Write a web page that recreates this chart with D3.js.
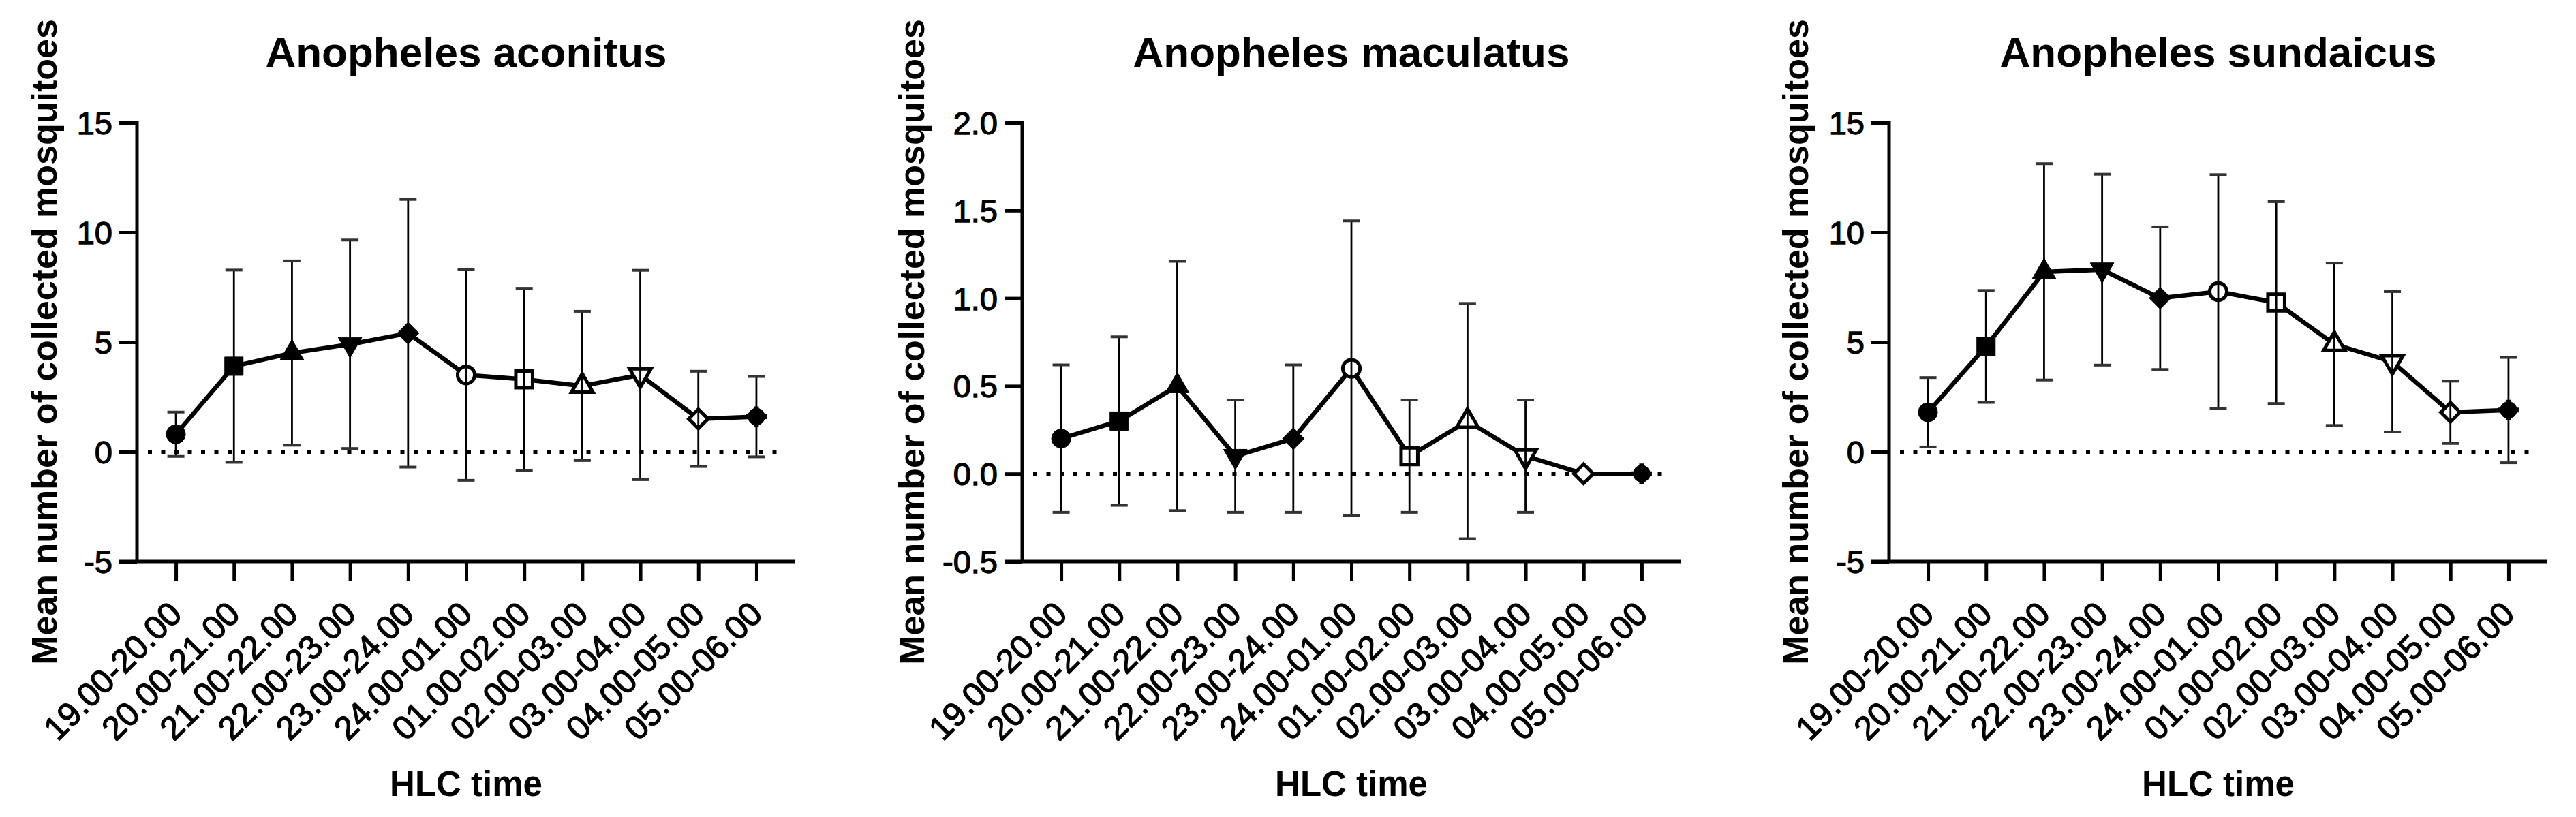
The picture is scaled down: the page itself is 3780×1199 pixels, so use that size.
<!DOCTYPE html>
<html>
<head>
<meta charset="utf-8">
<script src="https://cdn.jsdelivr.net/npm/d3@7"></script>
<style>
  html, body { margin: 0; padding: 0; background: #fff; }
  svg { display: block; }
</style>
</head>
<body>
<script>
// ---------------- DATA ----------------
const categories = ["19.00-20.00","20.00-21.00","21.00-22.00","22.00-23.00","23.00-24.00",
                    "24.00-01.00","01.00-02.00","02.00-03.00","03.00-04.00","04.00-05.00","05.00-06.00"];

const titles = ["Anopheles aconitus", "Anopheles maculatus", "Anopheles sundaicus"];

const aconitusMean  = [0.8, 3.9, 4.5, 4.9, 5.4, 3.5, 3.3, 3.0, 3.5, 1.5, 1.6];
const aconitusSD    = [1.01, 4.38, 4.2, 4.75, 6.1, 4.8, 4.15, 3.4, 4.77, 2.17, 1.83];

const maculatusMean = [0.2, 0.3, 0.5, 0.1, 0.2, 0.6, 0.1, 0.3, 0.1, 0.0, 0.0];
const maculatusSD   = [0.42, 0.48, 0.71, 0.32, 0.42, 0.84, 0.32, 0.67, 0.32, 0.0, 0.0];

const sundaicusMean = [1.8, 4.8, 8.2, 8.3, 7.0, 7.3, 6.8, 4.9, 4.1, 1.8, 1.9];
const sundaicusSD   = [1.58, 2.55, 4.93, 4.35, 3.25, 5.33, 4.6, 3.7, 3.2, 1.42, 2.4];

const yTicksCount   = [-5, 0, 5, 10, 15];
const yLabelsCount  = ["-5", "0", "5", "10", "15"];
const yTicksMac     = [-0.5, 0.0, 0.5, 1.0, 1.5, 2.0];
const yLabelsMac    = ["-0.5", "0.0", "0.5", "1.0", "1.5", "2.0"];

const yTitle = "Mean number of collected mosquitoes";
const xTitle = "HLC time";

const markerTypes  = ["circle","square","triangle","triangleDown","diamond",
                      "circle","square","triangle","triangleDown","diamond","plus"];
const markerFilled = [true, true, true, true, true, false, false, false, false, false, true];

// ---------------- LAYOUT ----------------
const W = 3780, H = 1199;
const FONT = "'Liberation Sans', Arial, Helvetica, sans-serif";
const plotW = 966, plotTop = 180, plotBottom = 824;

const panels = [
  { x0: 201,  mean: aconitusMean,  sd: aconitusSD,  domain: [-5, 15],   ticks: yTicksCount, labels: yLabelsCount, yLabelOff: 118 },
  { x0: 1500, mean: maculatusMean, sd: maculatusSD, domain: [-0.5, 2.0], ticks: yTicksMac,  labels: yLabelsMac,   yLabelOff: 144 },
  { x0: 2772, mean: sundaicusMean, sd: sundaicusSD, domain: [-5, 15],   ticks: yTicksCount, labels: yLabelsCount, yLabelOff: 119 }
];

const svg = d3.select("body").append("svg")
  .attr("width", W).attr("height", H)
  .attr("viewBox", `0 0 ${W} ${H}`);
svg.append("rect").attr("width", W).attr("height", H).attr("fill", "#fff");

function markerPath(type, filled) {
  switch (type) {
    case "circle":       return d3.symbol(d3.symbolCircle, filled ? 620 : 500)();
    case "square":       return d3.symbol(d3.symbolSquare, filled ? 730 : 600)();
    case "triangle":
    case "triangleDown": return d3.symbol(d3.symbolTriangle, filled ? 520 : 430)();
    case "diamond":      return d3.symbol(d3.symbolSquare, filled ? 500 : 400)();
    case "plus":         return d3.symbol(d3.symbolCircle, 480)();
  }
}
function markerRotate(type) {
  if (type === "triangleDown") return 180;
  if (type === "diamond") return 45;
  return 0;
}

panels.forEach((p, i) => {
  const g = svg.append("g").attr("transform", `translate(${p.x0},0)`);

  const x = d3.scalePoint().domain(categories).range([0, plotW]).padding(0.67);
  const y = d3.scaleLinear().domain(p.domain).range([plotBottom, plotTop]);

  // title
  g.append("text")
    .attr("x", plotW / 2).attr("y", 98)
    .attr("text-anchor", "middle")
    .attr("font-family", FONT).attr("font-weight", "bold").attr("font-size", 62)
    .attr("fill", "#000")
    .text(titles[i]);

  // y axis
  const gy = g.append("g").call(
    d3.axisLeft(y).tickValues(p.ticks).tickFormat((d, j) => p.labels[j])
      .tickSize(26).tickPadding(10).tickSizeOuter(0));
  gy.select(".domain").remove();
  gy.selectAll(".tick line").attr("stroke", "#000").attr("stroke-width", 5);
  gy.selectAll(".tick text")
    .attr("font-family", FONT).attr("font-size", 47).attr("fill", "#000")
    .attr("stroke", "#000").attr("stroke-width", 1.3)
    .attr("dy", "0.35em");

  g.append("line")
    .attr("x1", 0).attr("x2", 0)
    .attr("y1", y.range()[1] - 2.5).attr("y2", y.range()[0])
    .attr("stroke", "#000").attr("stroke-width", 5);

  // x axis
  const gx = g.append("g").attr("transform", `translate(0,${y.range()[0]})`)
    .call(d3.axisBottom(x).tickSize(28).tickSizeOuter(0));
  gx.select(".domain").remove();
  gx.selectAll(".tick line").attr("stroke", "#000").attr("stroke-width", 5);
  gx.selectAll(".tick text")
    .attr("font-family", FONT).attr("font-size", 49).attr("fill", "#000")
    .attr("stroke", "#000").attr("stroke-width", 1.3)
    .attr("x", 0).attr("y", 0).attr("dy", null)
    .attr("text-anchor", "end")
    .attr("transform", "translate(11,80) rotate(-45)");

  g.append("line")
    .attr("x1", -26).attr("x2", x.range()[1])
    .attr("y1", y.range()[0]).attr("y2", y.range()[0])
    .attr("stroke", "#000").attr("stroke-width", 5);

  // axis titles
  g.append("text")
    .attr("transform", `translate(${-p.yLabelOff},${(plotTop + plotBottom) / 2}) rotate(-90)`)
    .attr("text-anchor", "middle")
    .attr("font-family", FONT).attr("font-weight", "bold").attr("font-size", 52)
    .attr("fill", "#000")
    .text(yTitle);

  g.append("text")
    .attr("x", plotW / 2).attr("y", 1168)
    .attr("text-anchor", "middle")
    .attr("font-family", FONT).attr("font-weight", "bold").attr("font-size", 51)
    .attr("fill", "#000")
    .text(xTitle);

  // dotted zero line
  g.append("line")
    .attr("x1", 16).attr("x2", plotW - 16)
    .attr("y1", y(0)).attr("y2", y(0))
    .attr("stroke", "#000").attr("stroke-width", 6)
    .attr("stroke-dasharray", "6,13.5");

  // connecting line
  const line = d3.line().x((d, j) => x(categories[j])).y(d => y(d));
  g.append("path")
    .datum(p.mean)
    .attr("d", line)
    .attr("fill", "none").attr("stroke", "#000")
    .attr("stroke-width", 6.5).attr("stroke-linejoin", "round");

  // markers
  const mk = g.append("g").selectAll("g.mk")
    .data(p.mean.map((m, j) => ({ m, j })))
    .join("g")
    .attr("transform", d => `translate(${x(categories[d.j])},${y(d.m)}) rotate(${markerRotate(markerTypes[d.j])})`);
  mk.append("path")
    .attr("d", d => markerPath(markerTypes[d.j], markerFilled[d.j]))
    .attr("fill", d => markerFilled[d.j] ? "#000" : "#fff")
    .attr("stroke", "#000")
    .attr("stroke-width", d => markerFilled[d.j] ? 1 : 5);
  mk.filter(d => markerTypes[d.j] === "plus").append("path")
    .attr("d", "M-15,0H15M0,-15V15")
    .attr("stroke", "#000").attr("stroke-width", 7);

  // error bars (mean ± SD)
  const eb = g.append("g").selectAll("g.eb")
    .data(p.mean.map((m, j) => ({ m, s: p.sd[j], j })).filter(d => d.s > 0))
    .join("g");
  eb.append("line")
    .attr("x1", d => x(categories[d.j])).attr("x2", d => x(categories[d.j]))
    .attr("y1", d => y(d.m - d.s)).attr("y2", d => y(d.m + d.s))
    .attr("stroke", "#000").attr("stroke-width", 2.8);
  [1, -1].forEach(sign => {
    eb.append("line")
      .attr("x1", d => x(categories[d.j]) - 12.5).attr("x2", d => x(categories[d.j]) + 12.5)
      .attr("y1", d => y(d.m + sign * d.s)).attr("y2", d => y(d.m + sign * d.s))
      .attr("stroke", "#333").attr("stroke-width", 4);
  });
});
</script>
</body>
</html>
